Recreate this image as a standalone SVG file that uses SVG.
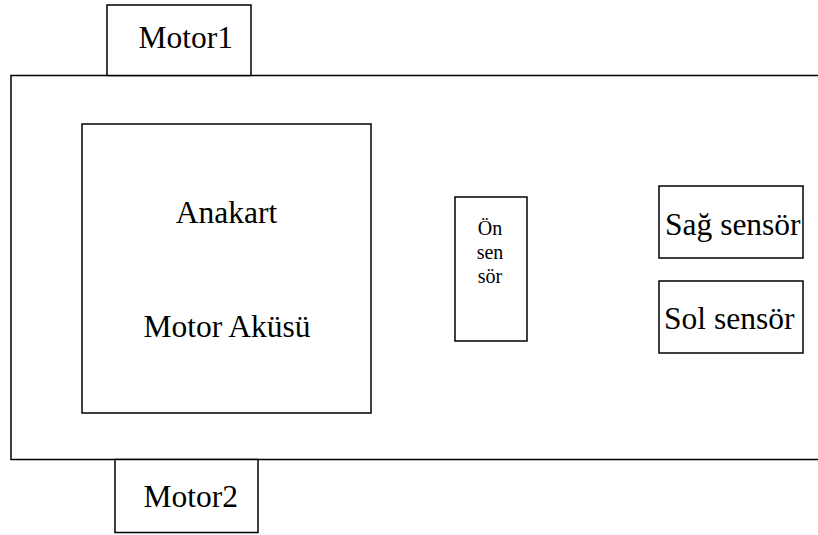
<svg xmlns="http://www.w3.org/2000/svg" width="818" height="535" viewBox="0 0 818 535">
  <style>
    .box { fill: #ffffff; stroke: #000000; stroke-width: 1.5; }
    .lbl { font-size: 31.5px; fill: #000000; }
    .small { font-size: 20px; }
    .mid { text-anchor: middle; }
  </style>
  <rect x="0" y="0" width="818" height="535" fill="#ffffff"/>

  <!-- robot chassis (runs off the right edge) -->
  <g id="chassis">
    <rect class="box" x="11" y="75.5" width="830" height="384"/>
  </g>

  <!-- no connectors in this layout -->
  <g id="connectors"/>

  <g font-family="Liberation Serif, Times New Roman, DejaVu Serif, serif">
    <g id="motor1">
      <rect class="box" x="107" y="5" width="144" height="70.5"/>
      <text class="lbl" x="138.5" y="48">Motor1</text>
    </g>

    <g id="motor2">
      <rect class="box" x="115" y="459.5" width="143" height="73"/>
      <text class="lbl" x="143.5" y="507">Motor2</text>
    </g>

    <g id="anakart">
      <rect class="box" x="82" y="124" width="289" height="289"/>
      <text class="lbl mid" x="226.5" y="223">Anakart</text>
      <text class="lbl mid" x="227" y="337">Motor Aküsü</text>
    </g>

    <g id="on-sensor">
      <rect class="box" x="455" y="197" width="72" height="144"/>
      <text class="lbl small mid" x="490" y="235">Ön</text>
      <text class="lbl small mid" x="490" y="259">sen</text>
      <text class="lbl small mid" x="490" y="283">sör</text>
    </g>

    <g id="sag-sensor">
      <rect class="box" x="659" y="186" width="144" height="72"/>
      <text class="lbl" x="665" y="235">Sağ sensör</text>
    </g>

    <g id="sol-sensor">
      <rect class="box" x="659" y="281" width="144" height="72"/>
      <text class="lbl" x="664" y="329">Sol sensör</text>
    </g>
  </g>
</svg>
